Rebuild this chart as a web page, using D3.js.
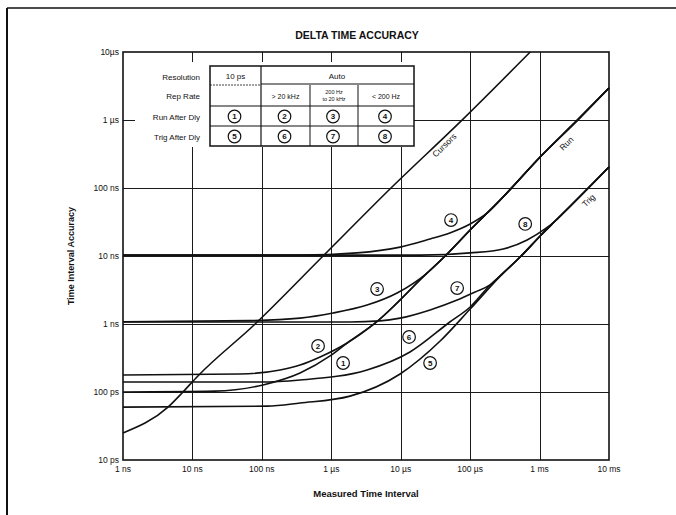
<!DOCTYPE html>
<html><head><meta charset="utf-8">
<script src="https://cdn.jsdelivr.net/npm/d3@7"></script>
<style>
html,body{margin:0;padding:0;background:#fff;}
svg{display:block;font-family:"Liberation Sans",Arial,sans-serif;}
</style></head>
<body><svg id="c" width="676" height="515"></svg>
<script>
// ---------- data ----------
const xTickValues = [1e-9,1e-8,1e-7,1e-6,1e-5,1e-4,1e-3,1e-2];
const xTickLabels = ["1 ns","10 ns","100 ns","1 µs","10 µs","100 µs","1 ms","10 ms"];
const yTickValues = [1e-11,1e-10,1e-9,1e-8,1e-7,1e-6,1e-5];
const yTickLabels = ["10 ps","100 ps","1 ns","10 ns","100 ns","1 µs","10µs"];

// [measured interval (s), accuracy (s)]
const cursors = [[1e-9,25e-12],[4.45e-9,60e-12],[7.3e-9,100e-12],[12e-9,172e-12],[80e-9,1e-9],
  [737e-9,9.66e-9],[7.0e-6,96.6e-9],[79e-6,1.03e-6],[733e-6,10e-6]];
const runTail = [[1.69e-6,525e-12],[4.27e-6,1.03e-9],[24e-6,5.62e-9],[43.7e-6,10e-9],[100e-6,24.1e-9],
  [289e-6,71.3e-9],[1.02e-3,286e-9],[3.6e-3,1.02e-6],[10e-3,2.95e-6]];
const trigTail = [[299e-6,5.6e-9],[525e-6,9.66e-9],[1.02e-3,19.7e-9],[1.68e-3,32.7e-9],[2.76e-3,54e-9],[10e-3,204e-9]];

const curve1 = [[1e-9,100e-12],[21e-9,103e-12],[104e-9,127e-12],[355e-9,190e-12],[961e-9,339e-12]];
const curve2 = [[1e-9,178e-12],[48.5e-9,184e-12],[183e-9,211e-12],[355e-9,249e-12],[690e-9,327e-12]];
const curve3 = [[1e-9,1.08e-9],[67.5e-9,1.12e-9],[355e-9,1.22e-9],[1.06e-6,1.45e-9],[3.28e-6,1.9e-9],[8.87e-6,2.86e-9]];
const curve4 = [[1e-9,10.3e-9],[355e-9,10.3e-9],[2.35e-6,11.1e-9],[9.8e-6,13.5e-9],[26.5e-6,17.8e-9],
  [51e-6,21.8e-9],[100e-6,29.5e-9],[176e-6,43e-9]];
const curve5 = [[1e-9,60e-12],[119e-9,62e-12],[355e-9,69e-12],[1.86e-6,87e-12],[9.8e-6,184e-12],[37e-6,562e-12],[100e-6,1.66e-9]];
const curve6 = [[1e-9,140e-12],[94e-9,140e-12],[355e-9,150e-12],[3.28e-6,211e-12],[13.6e-6,387e-12],
  [51e-6,1.07e-9],[100e-6,1.78e-9],[194e-6,3.75e-9]];
const curve7 = [[1e-9,1.07e-9],[1.86e-6,1.07e-9],[5.05e-6,1.11e-9],[9.8e-6,1.22e-9],[26.5e-6,1.61e-9],
  [65e-6,2.25e-9],[118e-6,2.96e-9],[194e-6,3.75e-9]];
const curve8 = [[1e-9,10.3e-9],[19e-6,10.3e-9],[100e-6,11.1e-9],[299e-6,12.7e-9],[662e-6,17.2e-9],[1.2e-3,25e-9]];

const series = [
  curve1.concat(runTail),
  curve2.concat(runTail),
  curve3.concat(runTail.slice(2)),
  curve4.concat(runTail.slice(5)),
  curve5.concat(trigTail),
  curve6.concat(trigTail),
  curve7.concat(trigTail),
  curve8.concat(trigTail.slice(3))
];

const markerNums = [1,2,3,4,5,6,7,8];
const markerPos = [[1.48e-6,267e-12],[645e-9,475e-12],[4.57e-6,3.27e-9],[53e-6,33.8e-9],
  [26.5e-6,267e-12],[13.2e-6,644e-12],[65e-6,3.38e-9],[621e-6,29.6e-9]];

// labels anchored on their line, set below-right of it
const lineLabels = ["Cursors","Run","Trig"];
const lineLabelPos = [[37e-6,491e-9],[1.98e-3,562e-9],[4.11e-3,81.6e-9]];

const rowHeaders = ["Resolution","Rep Rate","Run After Dly","Trig After Dly"];

// ---------- drawing ----------
const svg = d3.select("#c");
const X0=123, X1=609, Y0=52, Y1=460;
const x = d3.scaleLog().domain([1e-9,1e-2]).range([X0,X1]);
const y = d3.scaleLog().domain([1e-11,1e-5]).range([Y1,Y0]);
const ink = "#111";

// outer frame (top and left)
svg.append("line").attr("x1",7).attr("y1",8).attr("x2",676).attr("y2",8).attr("stroke",ink).attr("stroke-width",1.5);
svg.append("line").attr("x1",7).attr("y1",8).attr("x2",7).attr("y2",515).attr("stroke",ink).attr("stroke-width",2);

// title
svg.append("text").attr("x",357).attr("y",39).attr("text-anchor","middle")
  .attr("font-size",10.5).attr("font-weight","bold").attr("fill",ink).text("DELTA TIME ACCURACY");

// grid
const g = svg.append("g").attr("shape-rendering","crispEdges");
g.selectAll(".vg").data(xTickValues.slice(1,-1)).join("line")
  .attr("x1",d=>Math.round(x(d))+0.5).attr("x2",d=>Math.round(x(d))+0.5).attr("y1",Y0).attr("y2",Y1)
  .attr("stroke","#1a1a1a").attr("stroke-width",1);
g.selectAll(".hg").data(yTickValues.slice(1,-1)).join("line")
  .attr("y1",d=>Math.round(y(d))+0.5).attr("y2",d=>Math.round(y(d))+0.5).attr("x1",X0).attr("x2",X1)
  .attr("stroke","#1a1a1a").attr("stroke-width",1);

// curves
const line = d3.line().x(d=>x(d[0])).y(d=>y(d[1])).curve(d3.curveMonotoneX);
svg.append("g").selectAll("path").data(series).join("path")
  .attr("d",line).attr("fill","none").attr("stroke",ink).attr("stroke-width",1.6);
svg.append("path").datum(cursors).attr("d",line).attr("fill","none").attr("stroke",ink).attr("stroke-width",1.6);

// plot border
svg.append("rect").attr("x",X0).attr("y",Y0).attr("width",X1-X0).attr("height",Y1-Y0)
  .attr("fill","none").attr("stroke",ink).attr("stroke-width",1.6);

// axis tick labels
svg.append("g").selectAll("text").data(xTickValues).join("text")
  .attr("x",d=>x(d)).attr("y",Y1+12).attr("text-anchor","middle")
  .attr("font-size",8.5).attr("fill",ink).text((d,i)=>xTickLabels[i]);
svg.append("g").selectAll("text").data(yTickValues).join("text")
  .attr("x",X0-4).attr("y",d=>y(d)+3).attr("text-anchor","end")
  .attr("font-size",8.5).attr("fill",ink).text((d,i)=>yTickLabels[i]);

// axis titles
svg.append("text").attr("x",(X0+X1)/2).attr("y",497).attr("text-anchor","middle")
  .attr("font-size",9.5).attr("font-weight","bold").attr("fill",ink).text("Measured Time Interval");
svg.append("text").attr("transform","translate(74,256) rotate(-90)").attr("text-anchor","middle")
  .attr("font-size",9).attr("font-weight","bold").attr("fill",ink).text("Time Interval Accuracy");

// line labels
const labelDy = [9,12,12];
svg.append("g").selectAll("text").data(lineLabelPos).join("text")
  .attr("transform",d=>`translate(${x(d[0])},${y(d[1])}) rotate(-44)`)
  .attr("text-anchor","middle").attr("dy",(d,i)=>labelDy[i])
  .attr("font-size",8.5).attr("fill",ink).text((d,i)=>lineLabels[i]);

// circled markers
function circled(sel){
  sel.append("circle").attr("r",6.3).attr("fill","#fff").attr("stroke",ink).attr("stroke-width",1.2);
  sel.append("text").attr("text-anchor","middle").attr("dy","0.36em")
    .attr("font-size",8).attr("font-weight","bold").attr("fill",ink).text(d=>d);
}
svg.append("g").selectAll("g").data(markerNums).join("g")
  .attr("transform",(d,i)=>`translate(${x(markerPos[i][0])},${y(markerPos[i][1])})`)
  .call(circled);

// table
const T = svg.append("g");
const cols=[210,261,310,358,414], rows=[66,85,106,126,146];
T.append("rect").attr("x",135).attr("y",62).attr("width",414-135).attr("height",85).attr("fill","#fff");
T.append("rect").attr("x",cols[0]).attr("y",rows[0]).attr("width",cols[4]-cols[0]).attr("height",rows[4]-rows[0])
  .attr("fill","none").attr("stroke",ink).attr("stroke-width",1.5);
T.append("line").attr("x1",cols[1]).attr("x2",cols[1]).attr("y1",rows[0]).attr("y2",rows[4]).attr("stroke",ink).attr("stroke-width",1.2);
[cols[2],cols[3]].forEach(c=>T.append("line").attr("x1",c).attr("x2",c).attr("y1",rows[1]).attr("y2",rows[4]).attr("stroke",ink).attr("stroke-width",1));
T.append("line").attr("x1",cols[0]).attr("x2",cols[1]).attr("y1",rows[1]).attr("y2",rows[1]).attr("stroke",ink).attr("stroke-width",0.8).attr("stroke-dasharray","2,1");
T.append("line").attr("x1",cols[1]).attr("x2",cols[4]).attr("y1",rows[1]-1).attr("y2",rows[1]-1).attr("stroke",ink).attr("stroke-width",1);
[rows[2],rows[3]].forEach(r=>T.append("line").attr("x1",cols[0]).attr("x2",cols[4]).attr("y1",r).attr("y2",r).attr("stroke",ink).attr("stroke-width",1.1));

const hy=[77,96,117,137];
T.selectAll(".rh").data(rowHeaders).join("text").attr("x",200).attr("y",(d,i)=>hy[i]+3)
  .attr("text-anchor","end").attr("font-size",8).attr("fill",ink).text(d=>d);
const cx = [235.5,285.5,334,386];
T.append("text").attr("x",cx[0]).attr("y",79).attr("text-anchor","middle").attr("font-size",8).attr("fill",ink).text("10 ps");
T.append("text").attr("x",337).attr("y",79).attr("text-anchor","middle").attr("font-size",8).attr("fill",ink).text("Auto");
T.append("text").attr("x",cx[1]).attr("y",99).attr("text-anchor","middle").attr("font-size",7).attr("fill",ink).text("> 20 kHz");
T.append("text").attr("x",cx[2]).attr("y",94).attr("text-anchor","middle").attr("font-size",5.5).attr("fill",ink).text("200 Hz");
T.append("text").attr("x",cx[2]).attr("y",101).attr("text-anchor","middle").attr("font-size",5.5).attr("fill",ink).text("to 20 kHz");
T.append("text").attr("x",cx[3]).attr("y",99).attr("text-anchor","middle").attr("font-size",7).attr("fill",ink).text("< 200 Hz");
T.append("g").selectAll("g").data(markerNums).join("g")
  .attr("transform",(d,i)=>`translate(${cx[i%4]-1},${i<4?116.5:136.5})`)
  .call(circled);
</script></body></html>
